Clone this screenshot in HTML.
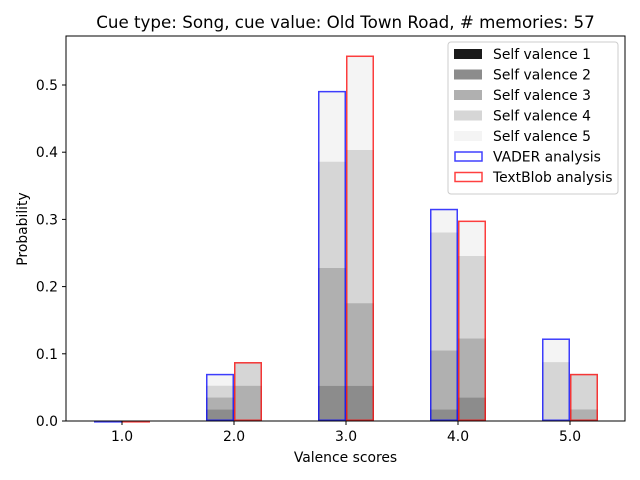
<!DOCTYPE html>
<html><head><meta charset="utf-8"><style>body{margin:0;background:#fff}svg{display:block;font-family:"DejaVu Sans","Liberation Sans",sans-serif}</style></head>
<body>
<svg id="chart" width="640" height="480" viewBox="0 0 640 480">
<rect width="640" height="480" fill="#fff"/>
<text x="345.5" y="28" font-size="16.7" text-anchor="middle">Cue type: Song, cue value: Old Town Road, # memories: 57</text>
<g id="bars"></g>
<rect x="66" y="36" width="559" height="385" fill="none" stroke="#000" stroke-width="1"/>
<g id="axes"></g>
<text x="345.5" y="462" font-size="13.9" text-anchor="middle">Valence scores</text>
<text x="27" y="229" font-size="13.9" text-anchor="middle" transform="rotate(-90 27 229)">Probability</text>
<g id="legend"></g>
</svg>
<script>
const categories=[1,2,3,4,5];
const total=57;
// counts per self valence level (1..5), per category
const vaderCounts=[[0,0,0,0,0],[0,1,1,1,1],[0,3,10,9,6],[0,1,5,10,2],[0,0,0,5,2]];
const textblobCounts=[[0,0,0,0,0],[0,0,3,2,0],[0,3,7,13,8],[0,2,5,7,3],[0,0,1,3,0]];
const yTicks=[0,0.1,0.2,0.3,0.4,0.5];
const xTickLabels=["1.0","2.0","3.0","4.0","5.0"];
const fills=["#1a1a1a","#8c8c8c","#b0b0b0","#d6d6d6","#f4f4f4"];
const ns="http://www.w3.org/2000/svg";
const X=v=>122+(v-1)*112, Y=p=>421-p*672;
const bars=document.getElementById('bars'), axes=document.getElementById('axes'), leg=document.getElementById('legend');
function mk(t,a,p){const e=document.createElementNS(ns,t);for(const k in a)e.setAttribute(k,a[k]);p.appendChild(e);return e;}
function series(counts,off,stroke,name){
 counts.forEach((c,i)=>{let cum=0;const x0=X(categories[i])+off;
  c.forEach((n,s)=>{const p0=cum/total;cum+=n;const p1=cum/total;
   if(n>0){const r=mk('rect',{x:x0,y:Y(p1),width:28,height:Y(p0)-Y(p1),fill:fills[s]},bars);
   
   }});
  const h=Y(0)-Y(cum/total);
  const o=mk('rect',{x:x0+0.75,y:Y(cum/total)+0.75,width:26.5,height:Math.max(h-1.5,0),fill:'none',stroke:stroke,'stroke-width':1.5},bars);
  if(h<1)o.setAttribute('height',0.1);
  
  });
}
series(vaderCounts,-28,'rgba(0,0,255,0.75)','vader');
series(textblobCounts,0,'rgba(255,0,0,0.75)','textblob');
yTicks.forEach(t=>{const y=Y(t);mk('line',{x1:62,x2:66,y1:y,y2:y,stroke:'#000'},axes);
 const tx=mk('text',{x:58,y:y+5,'font-size':13.9,'text-anchor':'end'},axes);tx.textContent=t.toFixed(1);
 });
categories.forEach((c,i)=>{const x=X(c);mk('line',{x1:x,x2:x,y1:421,y2:425,stroke:'#000'},axes);
 const tx=mk('text',{x:x,y:441,'font-size':13.9,'text-anchor':'middle'},axes);tx.textContent=xTickLabels[i];
 });
mk('rect',{x:448,y:42,width:170,height:152,rx:3,fill:'#fff','fill-opacity':0.8,stroke:'#ccc'},leg);
const labels=["Self valence 1","Self valence 2","Self valence 3","Self valence 4","Self valence 5","VADER analysis","TextBlob analysis"];
labels.forEach((l,i)=>{const y=54+i*20.5;
 let sw;
 if(i<5)sw=mk('rect',{x:454,y:y-5,width:28,height:10,fill:fills[i]},leg);
 else sw=mk('rect',{x:455,y:y-4.5,width:27,height:9,fill:'none',stroke:i==5?'rgba(0,0,255,0.75)':'rgba(255,0,0,0.75)','stroke-width':1.5},leg);
 
 const t=mk('text',{x:493,y:y+5,'font-size':13.9},leg);t.textContent=l;
 });
</script>
</body></html>
